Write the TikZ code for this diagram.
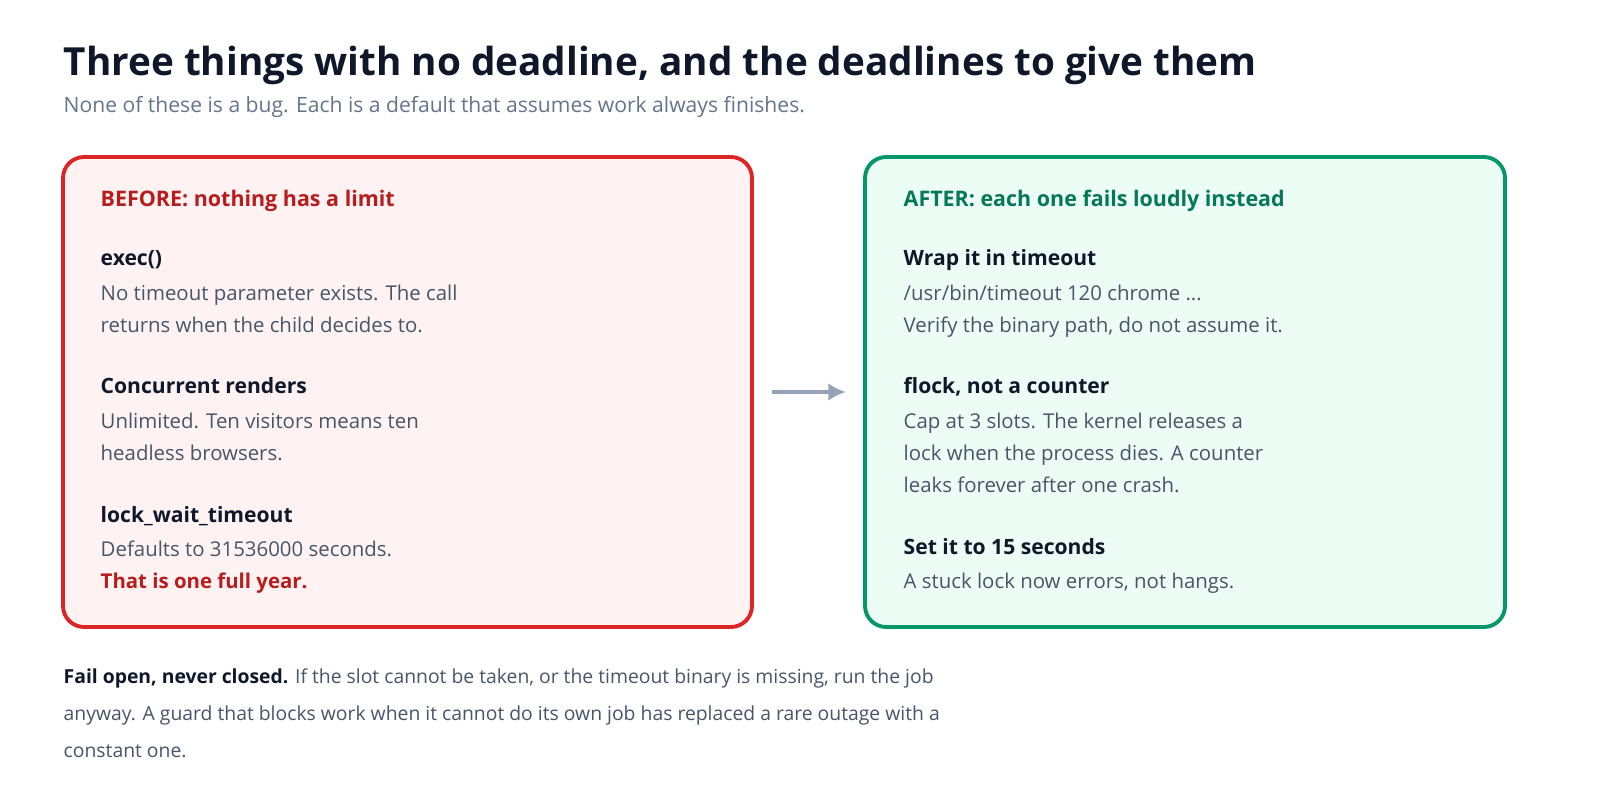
\documentclass[tikz,border=0pt]{standalone}
\usepackage{fontspec}
\setmainfont{Open Sans}
\usepackage{xcolor}
\usetikzlibrary{arrows.meta}
\definecolor{ink}{HTML}{0F172A}
\definecolor{muted}{HTML}{475569}
\definecolor{sub}{HTML}{64748B}
\definecolor{badline}{HTML}{DC2626}
\definecolor{badfill}{HTML}{FEF2F2}
\definecolor{badtext}{HTML}{B91C1C}
\definecolor{goodline}{HTML}{059669}
\definecolor{goodfill}{HTML}{ECFDF5}
\definecolor{goodtext}{HTML}{047857}
\definecolor{arrowc}{HTML}{94A3B8}

\begin{document}
\begin{tikzpicture}[x=0.01cm, y=-0.01cm]
\tikzstyle{every node}+=[inner sep=0pt, anchor=base west, align=left]
\tikzset{
  panel/.style={draw=#1line, fill=#1fill, line width=1.1pt, rounded corners=6pt},
  head/.style={font=\fontsize{6.1}{9}\selectfont\bfseries, text=#1text},
  item/.style={font=\fontsize{6}{9}\selectfont\bfseries, text=ink},
  body/.style={font=\fontsize{5.8}{9.1}\selectfont, text=muted},
}
\node (title) at (63,75) [font=\fontsize{11}{14}\selectfont\bfseries, text=ink]
    {Three things with no deadline, and the deadlines to give them};
\node (subtitle) at (63,112) [font=\fontsize{6}{9}\selectfont, text=sub]
    {None of these is a bug. Each is a default that assumes work always finishes.};

% before panel
\draw[panel=bad] (63,157) rectangle (752,627);
\node (bhead) at (100,206) [head=bad] {BEFORE: nothing has a limit};
\node (exec) at (100,265) [item] {exec()};
\node at (100,332) [body] {No timeout parameter exists. The call\\returns when the child decides to.};
\node (renders) at (100,393) [item] {Concurrent renders};
\node at (100,460) [body] {Unlimited. Ten visitors means ten\\headless browsers.};
\node (lockwait) at (100,522) [item] {lock\_wait\_timeout};
\node at (100,556) [body] {Defaults to 31536000 seconds.};
\node at (100,588) [body, text=badtext, font=\fontsize{5.8}{9.1}\selectfont\bfseries] {That is one full year.};

% after panel
\draw[panel=good] (865,157) rectangle (1505,627);
\node (ahead) at (903,206) [head=good] {AFTER: each one fails loudly instead};
\node (wrap) at (903,265) [item] {Wrap it in timeout};
\node at (903,332) [body] {/usr/bin/timeout 120 chrome ...\\Verify the binary path, do not assume it.};
\node (flock) at (903,393) [item] {flock, not a counter};
\node at (903,492) [body] {Cap at 3 slots. The kernel releases a\\lock when the process dies. A counter\\leaks forever after one crash.};
\node (fifteen) at (903,554) [item] {Set it to 15 seconds};
\node at (903,588) [body] {A stuck lock now errors, not hangs.};

\coordinate (from) at (772,392);
\coordinate (to) at (846,392);
\draw[-{Latex[length=5pt,width=5pt]}, arrowc, line width=1pt] (from) -- (to);

% footer
\node (note) at (63,757) [font=\fontsize{5.5}{10.5}\selectfont, text=muted]
    {\textbf{\color{ink}Fail open, never closed.} If the slot cannot be taken, or the timeout binary is missing, run the job\\
     anyway. A guard that blocks work when it cannot do its own job has replaced a rare outage with a\\
     constant one.};
\pgfresetboundingbox
\useasboundingbox (0,0) rectangle (1600,800);
\end{tikzpicture}
\end{document}
